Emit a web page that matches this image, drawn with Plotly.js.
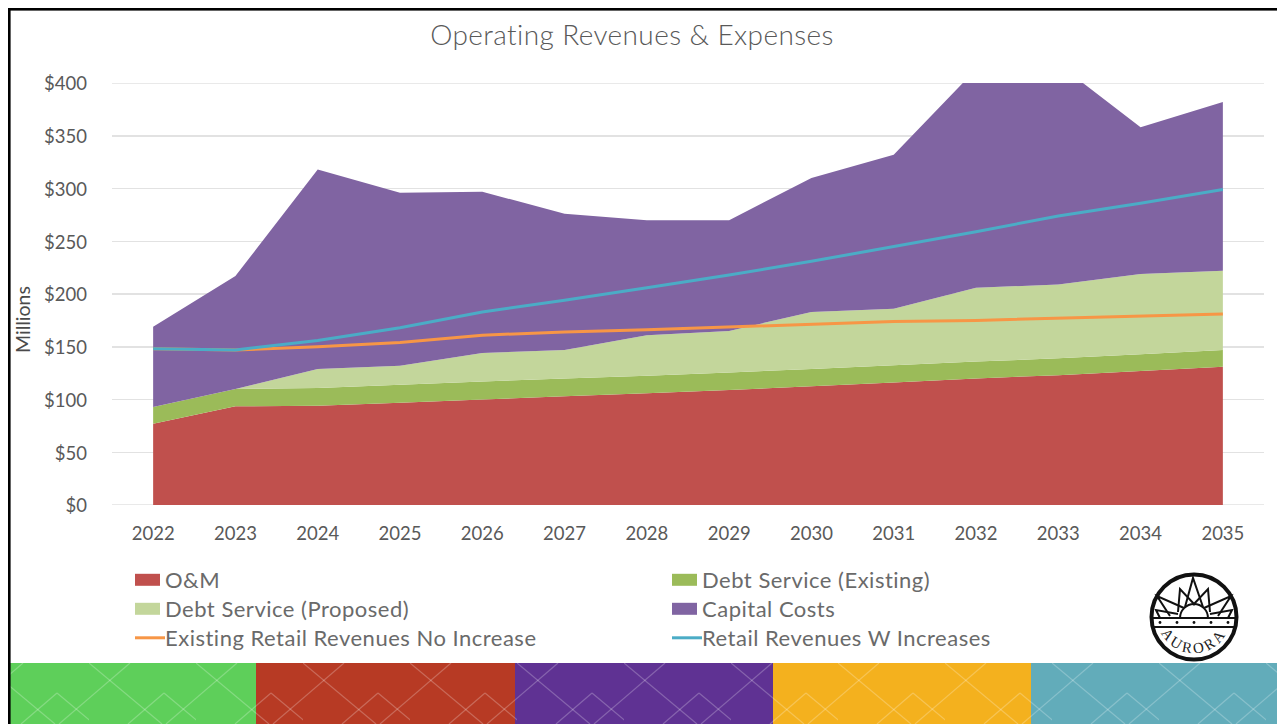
<!DOCTYPE html>
<html>
<head>
<meta charset="utf-8">
<script src="https://cdn.plot.ly/plotly-3.0.1.min.js"></script>
<style>
html,body{margin:0;padding:0;background:#fff;width:1277px;height:724px;overflow:hidden}
#deco,#logo{position:absolute;left:0;top:0}
#chart{position:absolute;left:0;top:0;width:1277px;height:724px}
#chart .legendtext{letter-spacing:.5px}
#chart .gtitle{letter-spacing:.4px}
</style>
</head>
<body>
<svg id="deco" width="1277" height="724" xmlns="http://www.w3.org/2000/svg">
  <defs>
    <pattern id="tile" patternUnits="userSpaceOnUse" x="517" y="663" width="107" height="61">
      <g fill="none" stroke="#fff" stroke-opacity="0.24" stroke-width="1.2">
        <path d="M0,0L73,61"/>
        <path d="M41,0L-30,61"/>
        <path d="M148,0L77,61"/>
        <path d="M-107,0L-34,61"/>
        <path d="M75,30L39,61M75,30L112,61"/>
        <path d="M-32,30L-68,61M182,30L146,61"/>
      </g>
    </pattern>
  </defs>
  <rect x="10" y="663" width="246" height="61" fill="#5ecf5a"/>
  <rect x="256" y="663" width="259" height="61" fill="#b73a24"/>
  <rect x="515" y="663" width="258" height="61" fill="#5f3293"/>
  <rect x="773" y="663" width="258" height="61" fill="#f4b11e"/>
  <rect x="1031" y="663" width="246" height="61" fill="#62acba"/>
  <rect x="10" y="663" width="1267" height="61" fill="url(#tile)"/>
  <rect x="8" y="8" width="1269" height="2.6" fill="#000"/>
  <rect x="8" y="8" width="2.6" height="716" fill="#000"/>
</svg>
<div id="chart"></div>
<svg id="logo" width="1277" height="724" xmlns="http://www.w3.org/2000/svg" style="pointer-events:none">
  <defs><path id="arc" d="M1159,627A36.5,36.5 0 0 0 1229,627"/></defs>
  <circle cx="1194" cy="617" r="42.5" fill="#fff" stroke="#111" stroke-width="4"/>
  <g fill="none" stroke="#111" stroke-width="2">
    <path d="M1152,618H1236M1153,627H1235"/>
    <path d="M1180,618A14,14 0 0 1 1208,618"/>
    <path d="M1185,607L1193,578L1203,607"/>
    <path d="M1178,612L1180,589L1195,605M1193,605L1208,589L1210,612"/>
    <path d="M1170,616L1157,596L1184,608M1204,608L1231,596L1218,616"/>
    <path d="M1160,618L1156,610L1178,614M1210,614L1232,610L1228,618"/>
  </g>
  <g fill="#111">
    <circle cx="1160" cy="622.5" r="1.4"/><circle cx="1177" cy="622.5" r="1.4"/><circle cx="1194" cy="622.5" r="1.4"/><circle cx="1211" cy="622.5" r="1.4"/><circle cx="1228" cy="622.5" r="1.4"/>
  </g>
  <text font-family="Liberation Serif" font-size="15" fill="#222" letter-spacing="3"><textPath href="#arc" startOffset="50%" text-anchor="middle">AURORA</textPath></text>
</svg>
<script>
var years = ["2022","2023","2024","2025","2026","2027","2028","2029","2030","2031","2032","2033","2034","2035"];
var omValues = [77,93.5,94,97,100,103,106,109,112.5,116,120,123,127,131];
var debtExisting = [16,16.5,17,17,17,17,16.5,16.5,16.5,16.5,16,16,16,16];
var debtProposed = [0,0,18,18,27,27,38.5,39.5,54,53.5,70,70,76,75];
var capitalCosts = [76,107,189,164,153,129,109,105,127,146,207,209,139,160];
var revenueNoIncrease = [148,147,150,154,161,164,166,168.5,171,174,175,177,179,181];
var revenueWithIncreases = [148,147,156,168,183,194,206,218,231,245,259,274,286,299];
var yTicks = [0,50,100,150,200,250,300,350,400];
var yTickLabels = ["$0","$50","$100","$150","$200","$250","$300","$350","$400"];

function area(name, vals, color){
  return {type:"scatter", mode:"none", x:years, y:vals, name:name, stackgroup:"costs",
          fill:"tonexty", fillcolor:color, hoverinfo:"x+y+name"};
}
function line(name, vals, color){
  return {type:"scatter", mode:"lines", x:years, y:vals, name:name,
          line:{color:color, width:3}};
}
var data = [
  area("O&M", omValues, "#c0504d"),
  area("Debt Service (Existing)", debtExisting, "#9bbb59"),
  area("Debt Service (Proposed)", debtProposed, "#c3d69b"),
  area("Capital Costs", capitalCosts, "#8064a2"),
  line("Existing Retail Revenues No Increase", revenueNoIncrease, "#f79646"),
  line("Retail Revenues W Increases", revenueWithIncreases, "#4bacc6")
];
function edgeLine(v){
  return {type:"line", xref:"paper", x0:0, x1:1, yref:"y", y0:v, y1:v, layer:"below",
          line:{color:"#e2e2e2", width:1.5}};
}
var layout = {
  width:1277, height:724,
  margin:{l:112, r:13, t:83, b:219, autoexpand:false},
  paper_bgcolor:"rgba(0,0,0,0)", plot_bgcolor:"rgba(0,0,0,0)",
  font:{family:"Lato", color:"#595959"},
  title:{text:"Operating Revenues & Expenses", x:632/1277, xref:"container", xanchor:"center",
         y:1-35/724, yref:"container", yanchor:"middle",
         font:{family:"Lato", size:28, weight:300, color:"#595959"}},
  xaxis:{type:"category", range:[-0.5,13.5], showgrid:false, zeroline:false, showline:false,
         ticks:"", ticklabelstandoff:15, tickfont:{family:"Lato", size:18.5, color:"#595959"}},
  yaxis:{range:[0,400], tickvals:yTicks, ticktext:yTickLabels, showgrid:true, gridcolor:"#e2e2e2", gridwidth:1.5,
         zeroline:false, showline:false, ticks:"", ticklabelstandoff:24, ticklabelshift:1,
         tickfont:{family:"Lato", size:18.5, color:"#595959"}},
  shapes:[edgeLine(0), edgeLine(400)],
  showlegend:true,
  legend:{orientation:"h", x:(130-112)/1152, xanchor:"left", y:-(559-505)/422, yanchor:"top",
          entrywidth:492, entrywidthmode:"pixels", traceorder:"normal", bgcolor:"rgba(0,0,0,0)",
          font:{family:"Lato", size:22, weight:400, color:"#6a6a6a"}},
  annotations:[{text:"Millions", xref:"paper", yref:"paper", x:(22-112)/1152, y:(505-320)/422,
                xanchor:"center", yanchor:"middle", textangle:-90, showarrow:false,
                font:{family:"Lato", size:19.5, color:"#4a4a4a"}}]
};
Plotly.newPlot("chart", data, layout, {displayModeBar:false, staticPlot:true}).then(function(gd){
  gd.querySelectorAll(".legendfill path").forEach(function(p){
    p.setAttribute("d","M5,-6h25v12h-25z");
  });
  var rowPitch = 29, y0 = null;
  gd.querySelectorAll(".legend .traces").forEach(function(t,i){
    var m = /translate\(\s*([-\d.]+)[ ,]+([-\d.]+)/.exec(t.getAttribute("transform"));
    if(!m) return;
    if(y0===null) y0 = parseFloat(m[2]);
    t.setAttribute("transform","translate("+m[1]+","+(y0+Math.floor(i/2)*rowPitch)+")");
    var txt = t.querySelector(".legendtext");
    if(txt) txt.setAttribute("x", parseFloat(txt.getAttribute("x"))-5);
  });
});
</script>
</body>
</html>
